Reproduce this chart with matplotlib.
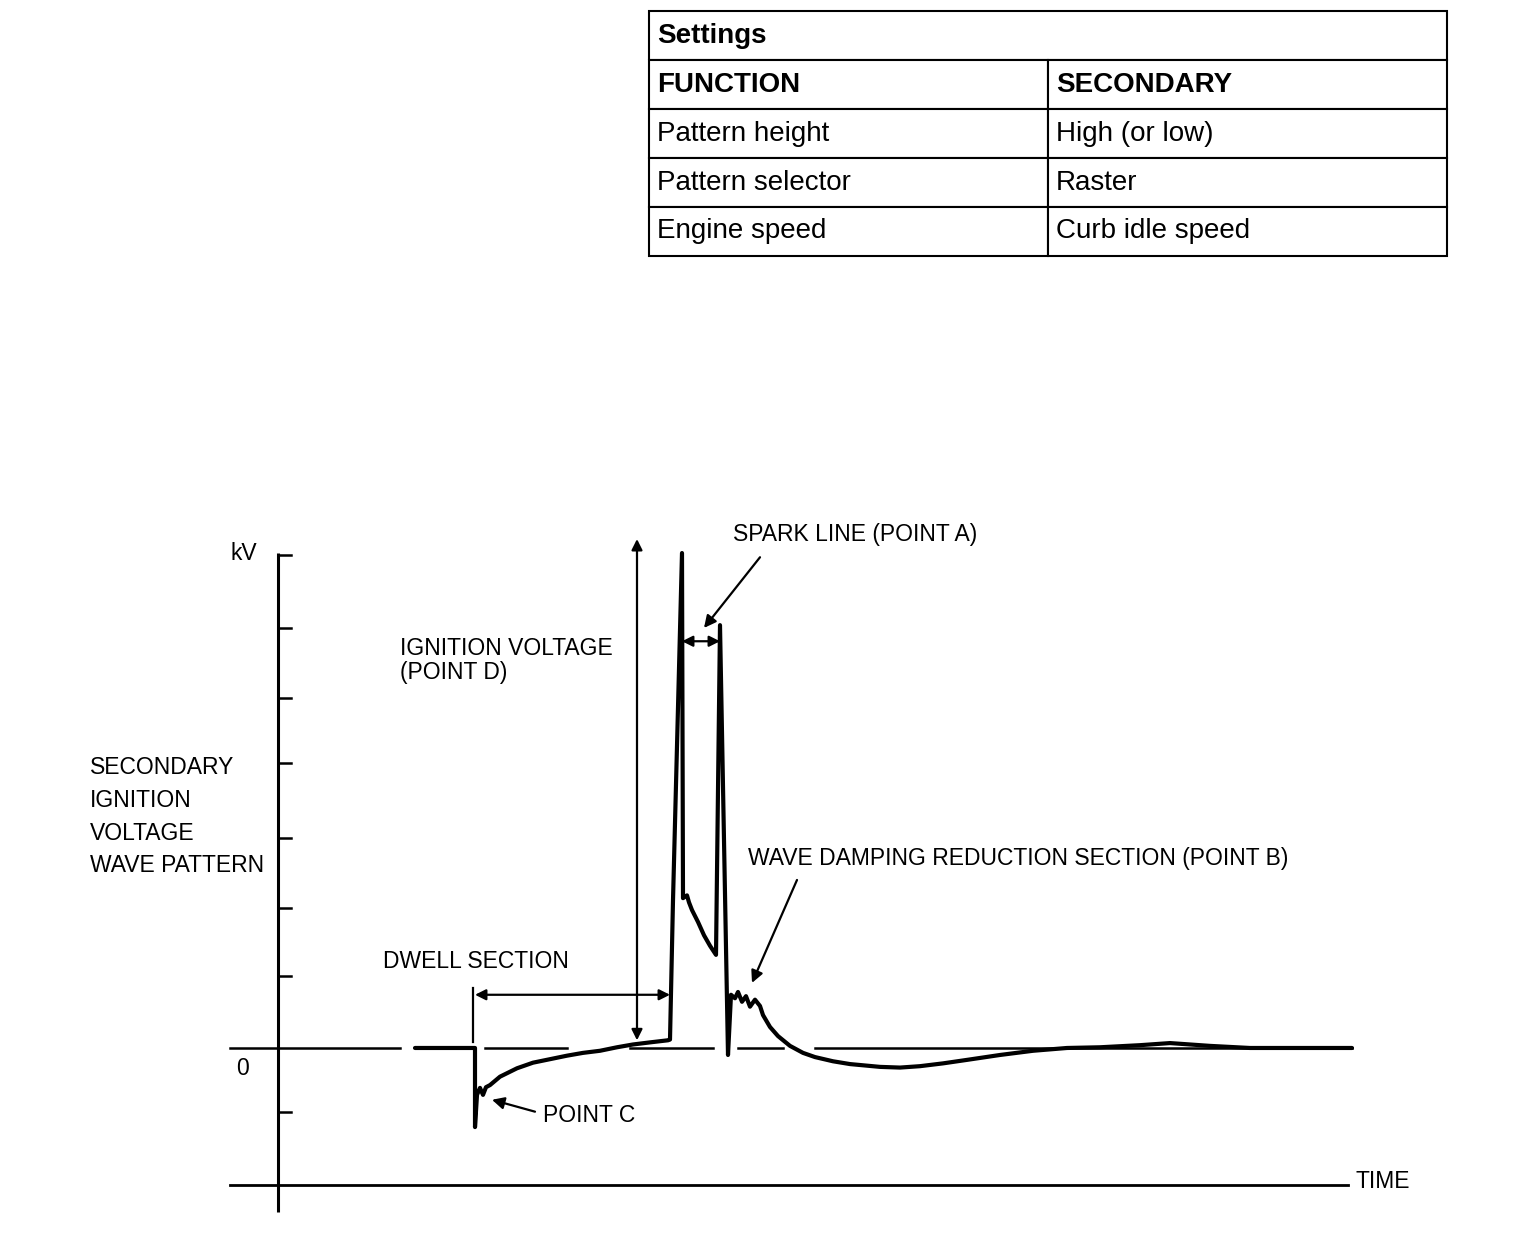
import matplotlib
matplotlib.use("Agg")
import matplotlib.pyplot as plt

plt.rcParams["font.family"] = ["Liberation Sans", "DejaVu Sans"]

# settings table
table_rows = [
    ["Pattern height", "High (or low)"],
    ["Pattern selector", "Raster"],
    ["Engine speed", "Curb idle speed"],
]
table_header = ["FUNCTION", "SECONDARY"]
table_title = "Settings"

# secondary ignition trace: time (arbitrary units) vs kV
trace_t = [13.7, 19.7, 19.7, 19.9, 20.2, 20.5, 20.8, 21.2, 22.2, 23.9, 25.5, 27.2, 28.9, 30.5,
           32.2, 33.9, 35.5, 37.2, 39.0, 39.2, 39.5, 40.4, 40.5, 40.9, 41.1, 41.4, 42.0, 42.6,
           43.2, 43.8, 44.2, 45.0, 45.3, 45.7, 46.0, 46.4, 46.8, 47.2, 47.7, 48.2, 48.5, 49.2,
           50.0, 51.2, 52.5, 53.7, 55.5, 57.2, 60.2, 62.2, 64.2, 66.5, 68.9, 72.2, 75.5, 78.9,
           82.2, 86.2, 89.2, 93.2, 97.2, 107.4]
trace_kv = [0, 0, -1.13, -0.67, -0.57, -0.67, -0.56, -0.53, -0.41, -0.29, -0.21, -0.16, -0.11, -0.07,
            -0.04, 0.01, 0.05, 0.08, 0.11, 0.12, 2.11, 7.07, 2.14, 2.18, 2.08, 1.97, 1.8, 1.61,
            1.46, 1.33, 6.04, -0.1, 0.76, 0.71, 0.8, 0.66, 0.74, 0.59, 0.69, 0.6, 0.47, 0.3,
            0.17, 0.03, -0.07, -0.13, -0.19, -0.23, -0.27, -0.28, -0.26, -0.22, -0.17, -0.1, -0.04, 0,
            0.01, 0.04, 0.07, 0.03, 0, 0]

# zero reference line pieces (time start, time end)
zero_segments = [(-4.8, 12.2), (20.7, 28.9), (35.2, 43.5), (46.0, 50.5), (53.7, 107.4)]
kv_ticks = [7.04, 6.0, 5.0, 4.07, 3.0, 2.0, 1.03, -0.91]
time_axis_kv = -1.96

fig = plt.figure(figsize=(15.2, 12.4), dpi=100)
ax = fig.add_axes([0, 0, 1, 1])
ax.set_xlim(-27.8, 124.2)
ax.set_ylim(-2.743, 14.97)
ax.axis("off")

# axes
ax.plot([0, 0], [-2.34, 7.07], color="black", lw=2.2, solid_capstyle="butt")
ax.plot([-4.8, 107.0], [time_axis_kv, time_axis_kv], color="black", lw=2.0)
for k in kv_ticks:
    ax.plot([0, 1.3], [k, k], color="black", lw=1.8)
for a, b in zero_segments:
    ax.plot([a, b], [0, 0], color="black", lw=1.8)

ax.plot(trace_t, trace_kv, color="black", lw=3.0, solid_joinstyle="round", solid_capstyle="round")

fs = 16.5
ax.text(-4.8, 7.07, "kV", fontsize=fs, va="center", ha="left")
ax.text(-4.2, -0.29, "0", fontsize=fs, va="center", ha="left")
for i, s in enumerate(["SECONDARY", "IGNITION", "VOLTAGE", "WAVE PATTERN"]):
    ax.text(-18.8, 4.01 - 0.47 * i, s, fontsize=fs, va="center", ha="left")
ax.text(12.2, 5.71, "IGNITION VOLTAGE", fontsize=fs, va="center", ha="left")
ax.text(12.2, 5.37, "(POINT D)", fontsize=fs, va="center", ha="left")
ax.text(10.5, 1.23, "DWELL SECTION", fontsize=fs, va="center", ha="left")
ax.text(26.5, -0.97, "POINT C", fontsize=fs, va="center", ha="left")
ax.text(45.5, 7.33, "SPARK LINE (POINT A)", fontsize=fs, va="center", ha="left")
ax.text(47.0, 2.7, "WAVE DAMPING REDUCTION SECTION (POINT B)", fontsize=fs, va="center", ha="left")
ax.text(107.7, -1.91, "TIME", fontsize=fs, va="center", ha="left")

two = dict(arrowstyle="<|-|>", mutation_scale=16, lw=1.6, color="black", shrinkA=0, shrinkB=0)
one = dict(arrowstyle="-|>", mutation_scale=18, lw=1.6, color="black", shrinkA=0, shrinkB=0)
ax.annotate("", xy=(35.9, 7.27), xytext=(35.9, 0.11), arrowprops=two)
ax.annotate("", xy=(19.7, 0.76), xytext=(39.2, 0.76), arrowprops=two)
ax.plot([19.5, 19.5], [0.09, 0.86], color="black", lw=1.6)
ax.annotate("", xy=(40.4, 5.81), xytext=(44.2, 5.81), arrowprops=two)
ax.annotate("", xy=(42.6, 6.0), xytext=(48.2, 7.01), arrowprops=one)
ax.annotate("", xy=(47.4, 0.93), xytext=(51.9, 2.4), arrowprops=one)
ax.annotate("", xy=(21.4, -0.74), xytext=(25.7, -0.91), arrowprops=one)

# table
tax = fig.add_axes([649 / 1520, 1 - 256 / 1240, 798 / 1520, 245 / 1240])
tax.axis("off")
cells = [[table_title, ""], table_header] + table_rows
tbl = tax.table(cellText=cells, bbox=[0, 0, 1, 1], cellLoc="left", colWidths=[0.5, 0.5])
tbl.auto_set_font_size(False)
for (r, c), cell in tbl.get_celld().items():
    cell.PAD = 0.02
    cell.set_linewidth(1.5)
    cell.get_text().set_fontsize(20)
    if r < 2:
        cell.get_text().set_fontweight("bold")
    if r == 0:
        cell.visible_edges = "LTB" if c == 0 else "RTB"

fig.savefig("out.png", dpi=100)
